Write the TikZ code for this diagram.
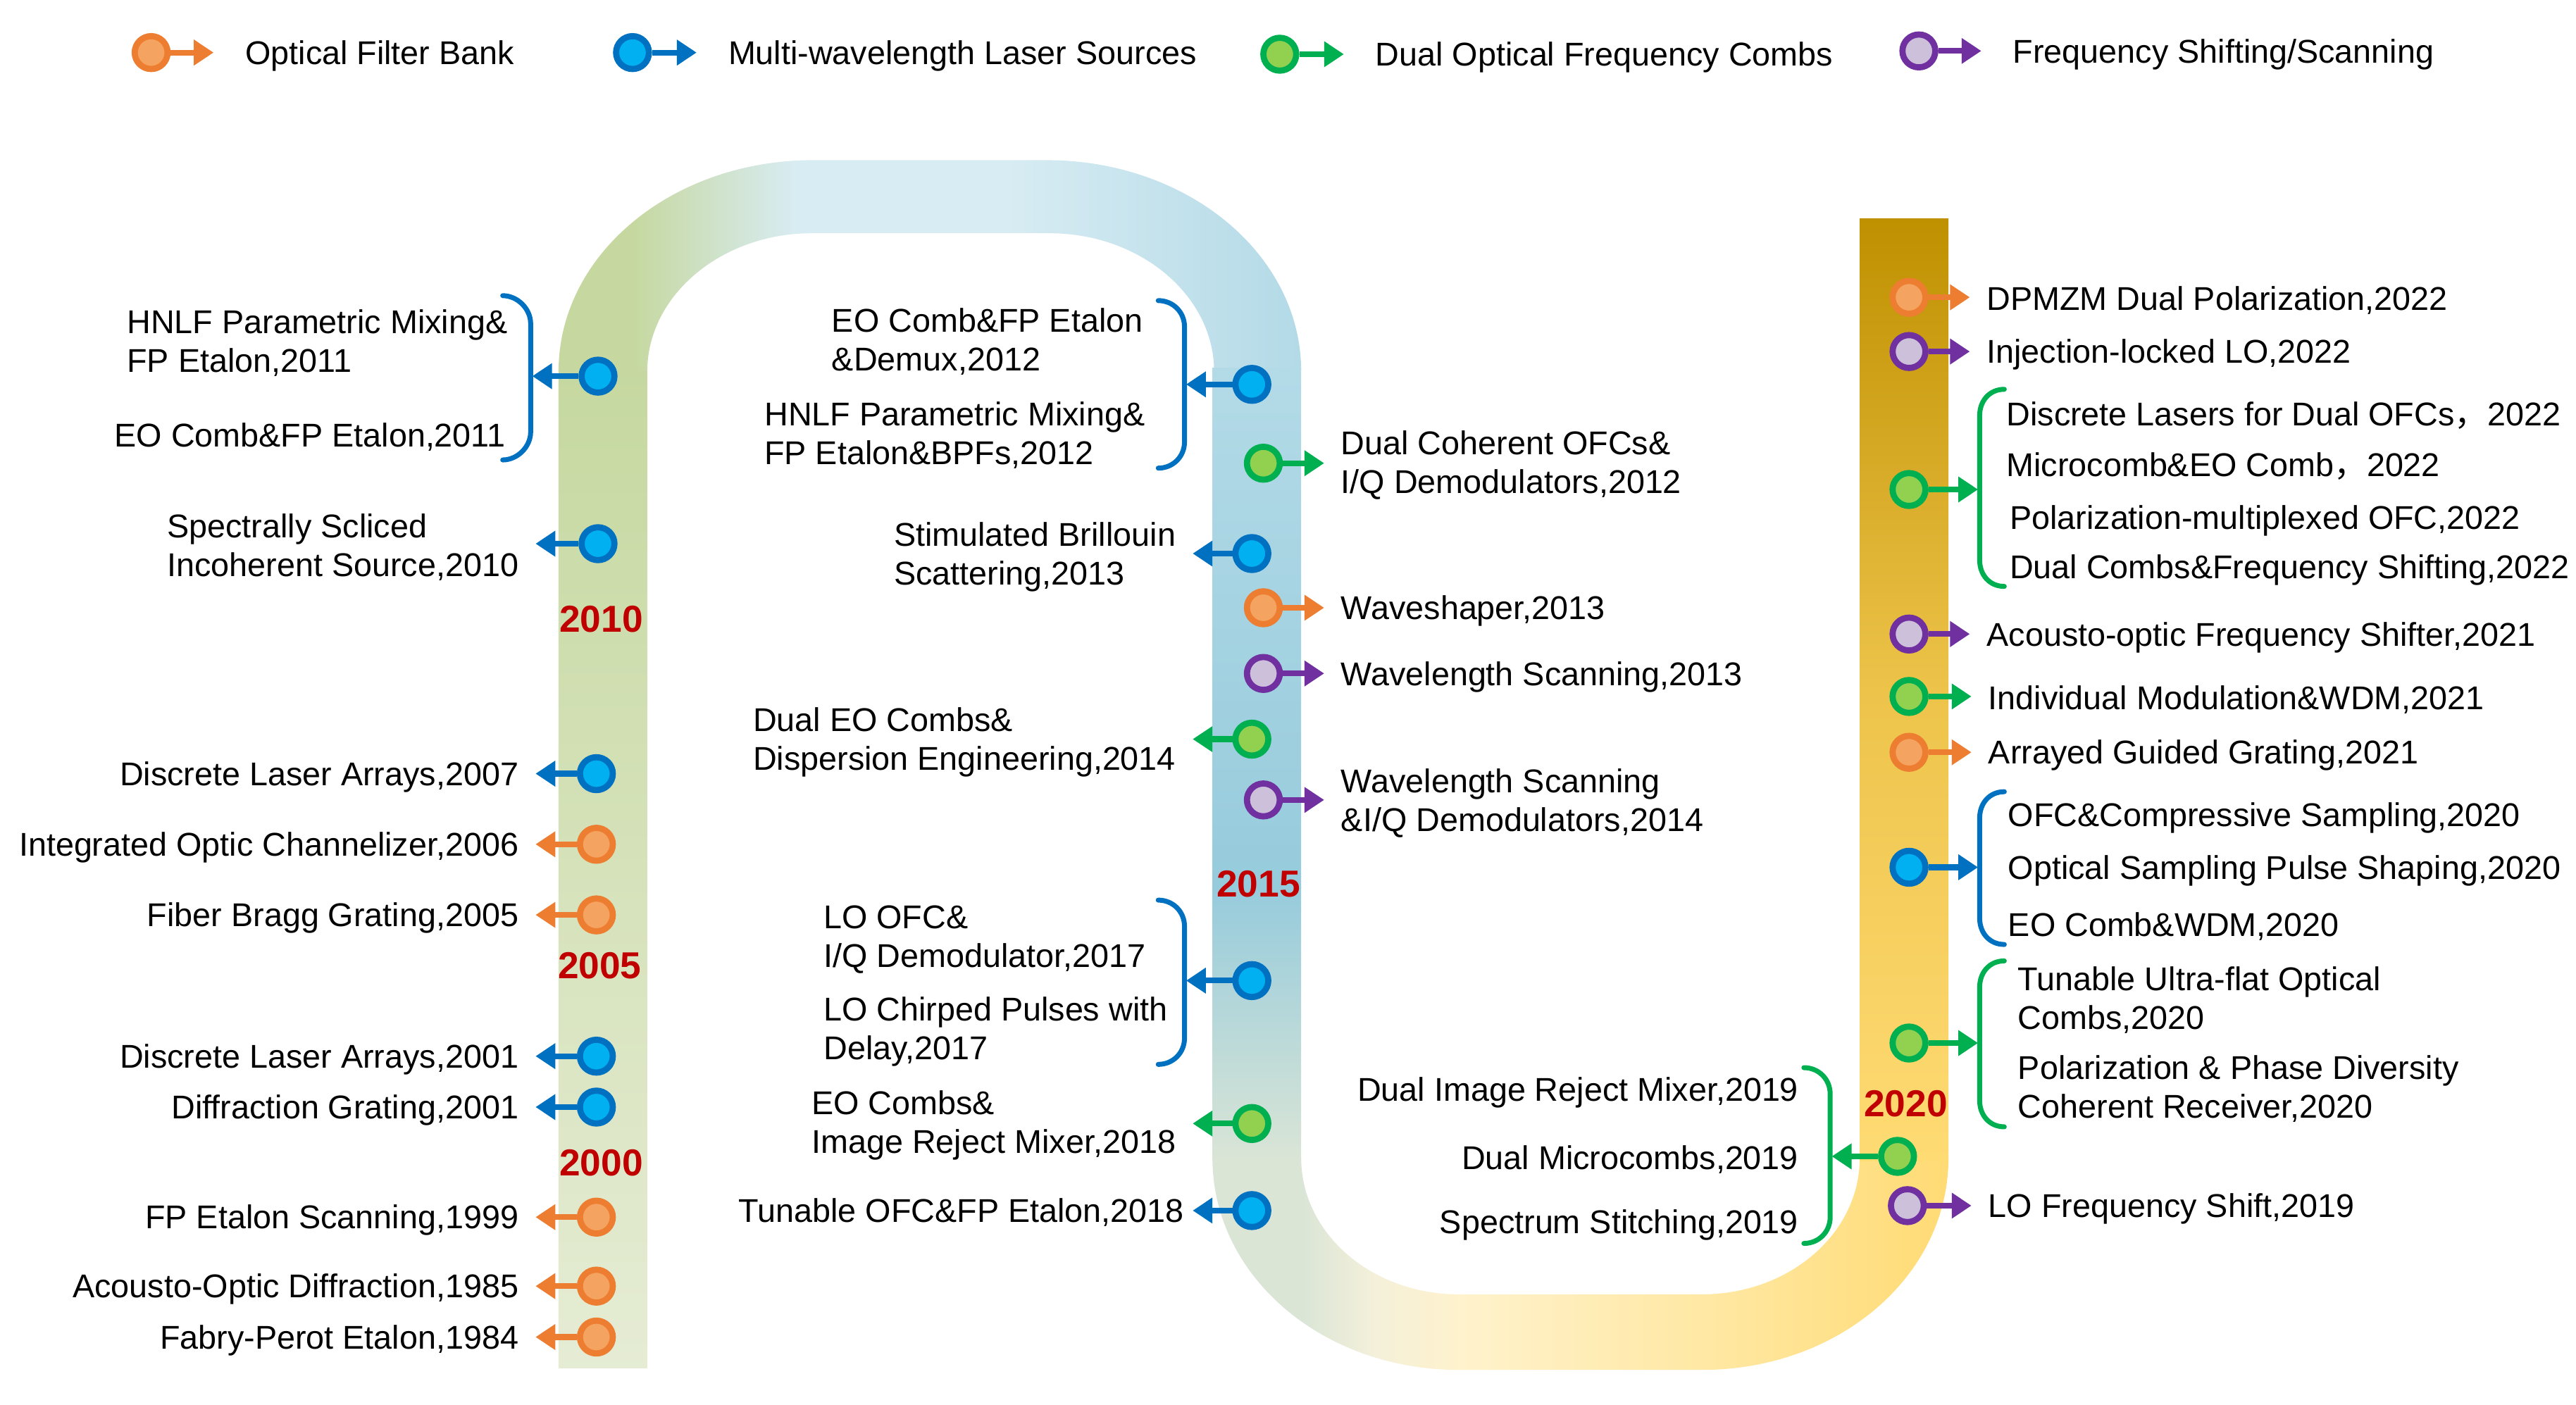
\documentclass[tikz,border=0pt]{standalone}
\usepackage{fontspec}
\setmainfont{Liberation Sans}
\newfontfamily\cjk{Noto Sans CJK SC}
\usetikzlibrary{arrows.meta}

\definecolor{ofbline}{HTML}{ED7D31}
\definecolor{ofbfill}{HTML}{F4A460}
\definecolor{mlsline}{HTML}{0070C0}
\definecolor{mlsfill}{HTML}{00B0F0}
\definecolor{dofline}{HTML}{00B050}
\definecolor{doffill}{HTML}{92D050}
\definecolor{fssline}{HTML}{7030A0}
\definecolor{fssfill}{HTML}{CCC0DA}
\definecolor{yearred}{HTML}{C00000}
\definecolor{bandgreen}{HTML}{C6D8A0}
\definecolor{bandgreenlow}{HTML}{E5ECD4}
\definecolor{bandsky}{HTML}{D8ECF3}
\definecolor{bandblue}{HTML}{B3DAE7}
\definecolor{bandteal}{HTML}{96CBDC}
\definecolor{bandpale}{HTML}{DAE5D6}
\definecolor{bandivory}{HTML}{F4F0DA}
\definecolor{bandcream}{HTML}{FFF2CC}
\definecolor{bandwheat}{HTML}{FFE7A0}
\definecolor{bandyellow}{HTML}{FFDB74}
\definecolor{bandamber}{HTML}{EDC34A}
\definecolor{bandgold}{HTML}{BF9000}

% colour runs of the two arches
\pgfdeclarehorizontalshading{archtop}{100bp}{color(0bp)=(bandgreen); color(30bp)=(bandgreen);
  color(41bp)=(bandsky); color(55bp)=(bandsky); color(75bp)=(bandblue); color(100bp)=(bandblue)}
\pgfdeclarehorizontalshading{archbottom}{100bp}{color(0bp)=(bandpale); color(31bp)=(bandpale);
  color(36bp)=(bandivory); color(42bp)=(bandcream); color(60bp)=(bandwheat); color(75bp)=(bandyellow);
  color(100bp)=(bandyellow)}

\tikzset{
  dot/.style={circle, minimum size=4mm, inner sep=0pt, line width=0.75mm},
  ofb/.style={dot, draw=ofbline, fill=ofbfill},
  mls/.style={dot, draw=mlsline, fill=mlsfill},
  dof/.style={dot, draw=dofline, fill=doffill},
  fss/.style={dot, draw=fssline, fill=fssfill},
  arr/.style={draw=#1, line width=0.7mm, -{Triangle[length=2.4mm,width=3mm]}},
  brk/.style={draw=#1, line width=0.6mm, line cap=round},
  lbl/.style={font=\fontsize{11.4}{13.4}\selectfont, inner xsep=2mm, inner ysep=0pt, align=left, yshift=-0.4mm},
  lgd/.style={lbl, inner xsep=3.8mm},
  yr/.style={font=\fontsize{13}{15}\selectfont\bfseries, text=yearred, inner sep=0pt},
}

\begin{document}
\begin{tikzpicture}[x=0.2mm, y=-0.2mm]
    \useasboundingbox (0,0) rectangle (1568,855);
    % band
    \shade[top color=bandgreen, bottom color=bandgreenlow] (340,224) rectangle (394,833);
    \shade[shading=archtop]
      (340,226) .. controls (340,155) and (409,97.5) .. (495,97.5) -- (637,97.5)
      .. controls (723,97.5) and (792,155) .. (792,226) -- (739,226)
      .. controls (739,180) and (694,142) .. (639,142) -- (494,142)
      .. controls (439,142) and (394,180) .. (394,226) -- cycle;
    \shade[top color=bandblue, bottom color=bandteal] (738,224) rectangle (792,541);
    \shade[top color=bandteal, bottom color=bandpale] (738,540) rectangle (792,707);
    \shade[shading=archbottom]
      (738,705) .. controls (738,777) and (805,834) .. (888,834) -- (1036,834)
      .. controls (1119,834) and (1186,777) .. (1186,705) -- (1132,705)
      .. controls (1132,751) and (1089,788) .. (1036,788) -- (888,788)
      .. controls (835,788) and (792,751) .. (792,705) -- cycle;
    \shade[top color=bandgold, bottom color=bandamber] (1132,133) rectangle (1186,421);
    \shade[top color=bandamber, bottom color=bandyellow] (1132,420) rectangle (1186,707);
    %
    % legend
    \node[ofb] (lgofb) at (92,32) {};
    \node[lgd, anchor=west] (lgofbl) at (130,32) {Optical Filter Bank};
    \draw[arr=ofbline] (lgofb) -- (lgofb -| lgofbl.west);
    \node[mls] (lgmls) at (385,32) {};
    \node[lgd, anchor=west] (lgmlsl) at (424,32) {Multi-wavelength Laser Sources};
    \draw[arr=mlsline] (lgmls) -- (lgmls -| lgmlsl.west);
    \node[dof] (lgdof) at (779,33) {};
    \node[lgd, anchor=west] (lgdofl) at (818,33) {Dual Optical Frequency Combs};
    \draw[arr=dofline] (lgdof) -- (lgdof -| lgdofl.west);
    \node[fss] (lgfss) at (1168,31) {};
    \node[lgd, anchor=west] (lgfssl) at (1206,31) {Frequency Shifting/Scanning};
    \draw[arr=fssline] (lgfss) -- (lgfss -| lgfssl.west);
    %
    % 1984 - 2011
    \node[ofb] (fpe84) at (363,814) {};
    \node[lbl, anchor=east] (fpe84l) at (326,814) {Fabry-Perot Etalon,1984};
    \draw[arr=ofbline] (fpe84) -- (fpe84 -| fpe84l.east);
    \node[ofb] (aod85) at (363,783) {};
    \node[lbl, anchor=east] (aod85l) at (326,783) {Acousto-Optic Diffraction,1985};
    \draw[arr=ofbline] (aod85) -- (aod85 -| aod85l.east);
    \node[ofb] (fps99) at (363,741) {};
    \node[lbl, anchor=east] (fps99l) at (326,741) {FP Etalon Scanning,1999};
    \draw[arr=ofbline] (fps99) -- (fps99 -| fps99l.east);
    \node[yr] (y2000) at (366,708) {2000};
    \node[mls] (dgr01) at (363,674) {};
    \node[lbl, anchor=east] (dgr01l) at (326,674) {Diffraction Grating,2001};
    \draw[arr=mlsline] (dgr01) -- (dgr01 -| dgr01l.east);
    \node[mls] (dla01) at (363,643) {};
    \node[lbl, anchor=east] (dla01l) at (326,643) {Discrete Laser Arrays,2001};
    \draw[arr=mlsline] (dla01) -- (dla01 -| dla01l.east);
    \node[yr] (y2005) at (365,588) {2005};
    \node[ofb] (fbg05) at (363,557) {};
    \node[lbl, anchor=east] (fbg05l) at (326,557) {Fiber Bragg Grating,2005};
    \draw[arr=ofbline] (fbg05) -- (fbg05 -| fbg05l.east);
    \node[ofb] (ioc06) at (363,514) {};
    \node[lbl, anchor=east] (ioc06l) at (326,514) {Integrated Optic Channelizer,2006};
    \draw[arr=ofbline] (ioc06) -- (ioc06 -| ioc06l.east);
    \node[mls] (dla07) at (363,471) {};
    \node[lbl, anchor=east] (dla07l) at (326,471) {Discrete Laser Arrays,2007};
    \draw[arr=mlsline] (dla07) -- (dla07 -| dla07l.east);
    \node[yr] (y2010) at (366,377) {2010};
    \node[mls] (ssi10) at (364,331) {};
    \node[lbl, anchor=east] (ssi10l) at (326,331) {Spectrally Scliced\\Incoherent Source,2010};
    \draw[arr=mlsline] (ssi10) -- (ssi10 -| ssi10l.east);
    \node[mls] (fp11) at (364,229) {};
    \draw[brk=mlsline] (306,180) .. controls (315,180) and (323,188) .. (323,197) -- (323,263)
      .. controls (323,272) and (315,280) .. (306,280);
    \coordinate (fp11b) at (324,229);
    \draw[arr=mlsline] (fp11) -- (fp11b);
    \node[lbl, anchor=west] (hnlf11) at (67,207) {HNLF Parametric Mixing\&\\FP Etalon,2011};
    \node[lbl, anchor=east] (eofp11) at (318,264) {EO Comb\&FP Etalon,2011};
    %
    % 2012 - 2018
    \node[mls] (fp12) at (762,234) {};
    \draw[brk=mlsline] (705,183) .. controls (714,183) and (721,190) .. (721,199) -- (721,269)
      .. controls (721,278) and (714,285) .. (705,285);
    \coordinate (fp12b) at (722,234);
    \draw[arr=mlsline] (fp12) -- (fp12b);
    \node[lbl, anchor=west] (eofp12) at (496,206) {EO Comb\&FP Etalon\\\&Demux,2012};
    \node[lbl, anchor=west] (hnlf12) at (455,263) {HNLF Parametric Mixing\&\\FP Etalon\&BPFs,2012};
    \node[dof] (dco12) at (769,282) {};
    \node[lbl, anchor=west] (dco12l) at (806,281) {Dual Coherent OFCs\&\\I/Q Demodulators,2012};
    \draw[arr=dofline] (dco12) -- (dco12 -| dco12l.west);
    \node[mls] (sbs13) at (762,337) {};
    \node[lbl, anchor=east] (sbs13l) at (726,337) {Stimulated Brillouin\\Scattering,2013};
    \draw[arr=mlsline] (sbs13) -- (sbs13 -| sbs13l.east);
    \node[ofb] (wsh13) at (769,370) {};
    \node[lbl, anchor=west] (wsh13l) at (806,370) {Waveshaper,2013};
    \draw[arr=ofbline] (wsh13) -- (wsh13 -| wsh13l.west);
    \node[fss] (wls13) at (769,410) {};
    \node[lbl, anchor=west] (wls13l) at (806,410) {Wavelength Scanning,2013};
    \draw[arr=fssline] (wls13) -- (wls13 -| wls13l.west);
    \node[dof] (deo14) at (762,450) {};
    \node[lbl, anchor=east] (deo14l) at (726,450) {Dual EO Combs\&\\Dispersion Engineering,2014};
    \draw[arr=dofline] (deo14) -- (deo14 -| deo14l.east);
    \node[fss] (wls14) at (769,487) {};
    \node[lbl, anchor=west] (wls14l) at (806,487) {Wavelength Scanning\\\&I/Q Demodulators,2014};
    \draw[arr=fssline] (wls14) -- (wls14 -| wls14l.west);
    \node[yr] (y2015) at (766,538) {2015};
    \node[mls] (lo17) at (762,597) {};
    \draw[brk=mlsline] (705,548) .. controls (714,548) and (721,555) .. (721,564) -- (721,632)
      .. controls (721,641) and (714,648) .. (705,648);
    \coordinate (lo17b) at (722,597);
    \draw[arr=mlsline] (lo17) -- (lo17b);
    \node[lbl, anchor=west] (lofc17) at (491,570) {LO OFC\&\\I/Q Demodulator,2017};
    \node[lbl, anchor=west] (locp17) at (491,626) {LO Chirped Pulses with\\Delay,2017};
    \node[dof] (eoc18) at (762,684) {};
    \node[lbl, anchor=east] (eoc18l) at (726,683) {EO Combs\&\\Image Reject Mixer,2018};
    \draw[arr=dofline] (eoc18) -- (eoc18 -| eoc18l.east);
    \node[mls] (tof18) at (762,737) {};
    \node[lbl, inner xsep=1mm, anchor=east] (tof18l) at (726,736) {Tunable OFC\&FP Etalon,2018};
    \draw[arr=mlsline] (tof18) -- (tof18 -| tof18l.east);
    %
    % 2019 - 2022
    \node[dof] (dmc19) at (1155,704) {};
    \draw[brk=dofline] (1098,650) .. controls (1107,650) and (1114,657) .. (1114,666) -- (1114,741)
      .. controls (1114,750) and (1107,757) .. (1098,757);
    \coordinate (dmc19b) at (1115,704);
    \draw[arr=dofline] (dmc19) -- (dmc19b);
    \node[lbl, anchor=east] (dirm19) at (1105,663) {Dual Image Reject Mixer,2019};
    \node[lbl, anchor=east] (dmic19) at (1105,704) {Dual Microcombs,2019};
    \node[lbl, anchor=east] (sst19) at (1105,744) {Spectrum Stitching,2019};
    \node[fss] (lof19) at (1161,734) {};
    \node[lbl, anchor=west] (lof19l) at (1200,734) {LO Frequency Shift,2019};
    \draw[arr=fssline] (lof19) -- (lof19 -| lof19l.west);
    \node[yr] (y2020) at (1160,672) {2020};
    \node[dof] (tuf20) at (1162,635) {};
    \draw[brk=dofline] (1220,585) .. controls (1211,585) and (1205,592) .. (1205,601) -- (1205,670)
      .. controls (1205,679) and (1211,686) .. (1220,686);
    \coordinate (tuf20b) at (1204,635);
    \draw[arr=dofline] (tuf20) -- (tuf20b);
    \node[lbl, anchor=west] (tuf20l) at (1218,607) {Tunable Ultra-flat Optical\\Combs,2020};
    \node[lbl, anchor=west] (ppd20l) at (1218,661) {Polarization \& Phase Diversity\\Coherent Receiver,2020};
    \node[mls] (ocs20) at (1162,528) {};
    \draw[brk=mlsline] (1220,482) .. controls (1211,482) and (1205,489) .. (1205,498) -- (1205,559)
      .. controls (1205,568) and (1211,575) .. (1220,575);
    \coordinate (ocs20b) at (1204,528);
    \draw[arr=mlsline] (ocs20) -- (ocs20b);
    \node[lbl, anchor=west] (ocs20l) at (1212,496) {OFC\&Compressive Sampling,2020};
    \node[lbl, anchor=west] (osp20l) at (1212,528) {Optical Sampling Pulse Shaping,2020};
    \node[lbl, anchor=west] (eow20l) at (1212,562) {EO Comb\&WDM,2020};
    \node[ofb] (agg21) at (1162,458) {};
    \node[lbl, anchor=west] (agg21l) at (1200,458) {Arrayed Guided Grating,2021};
    \draw[arr=ofbline] (agg21) -- (agg21 -| agg21l.west);
    \node[dof] (imw21) at (1162,424) {};
    \node[lbl, anchor=west] (imw21l) at (1200,424) {Individual Modulation\&WDM,2021};
    \draw[arr=dofline] (imw21) -- (imw21 -| imw21l.west);
    \node[fss] (aof21) at (1162,386) {};
    \node[lbl, anchor=west] (aof21l) at (1199,386) {Acousto-optic Frequency Shifter,2021};
    \draw[arr=fssline] (aof21) -- (aof21 -| aof21l.west);
    \node[dof] (dl22) at (1162,298) {};
    \draw[brk=dofline] (1220,237) .. controls (1211,237) and (1205,244) .. (1205,253) -- (1205,341)
      .. controls (1205,350) and (1211,357) .. (1220,357);
    \coordinate (dl22b) at (1204,298);
    \draw[arr=dofline] (dl22) -- (dl22b);
    \node[lbl, anchor=west] (dl22l) at (1211,251) {Discrete Lasers for Dual OFCs{\cjk ，}2022};
    \node[lbl, anchor=west] (mce22l) at (1211,282) {Microcomb\&EO Comb{\cjk ，}2022};
    \node[lbl, anchor=west] (pmo22l) at (1213,315) {Polarization-multiplexed OFC,2022};
    \node[lbl, anchor=west] (dcf22l) at (1213,345) {Dual Combs\&Frequency Shifting,2022};
    \node[fss] (ilo22) at (1162,214) {};
    \node[lbl, anchor=west] (ilo22l) at (1199,214) {Injection-locked LO,2022};
    \draw[arr=fssline] (ilo22) -- (ilo22 -| ilo22l.west);
    \node[ofb] (dpm22) at (1162,181) {};
    \node[lbl, anchor=west] (dpm22l) at (1199,181) {DPMZM Dual Polarization,2022};
    \draw[arr=ofbline] (dpm22) -- (dpm22 -| dpm22l.west);
  \end{tikzpicture}
\end{document}
